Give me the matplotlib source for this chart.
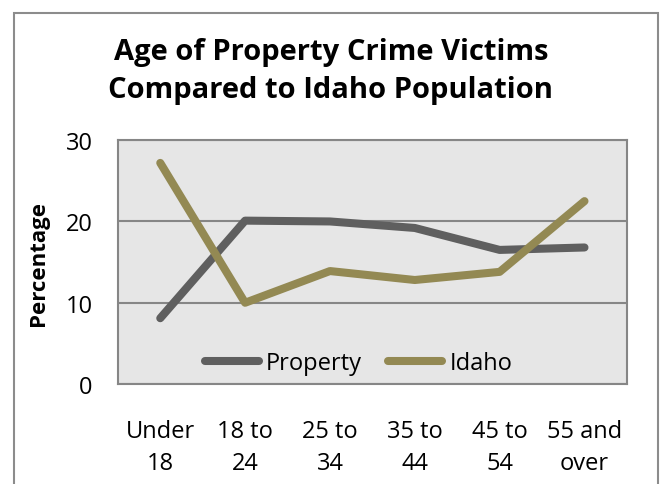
import matplotlib.pyplot as plt
from matplotlib.patches import Rectangle

categories = ["Under\n18", "18 to\n24", "25 to\n34", "35 to\n44", "45 to\n54", "55 and\nover"]
property_pct = [8.1, 20.1, 20.0, 19.2, 16.5, 16.8]
idaho_pct = [27.2, 10.0, 13.9, 12.8, 13.8, 22.5]

plt.rcParams['font.family'] = ['Open Sans', 'DejaVu Sans']

fig = plt.figure(figsize=(6.62, 4.85), dpi=100)
ax = fig.add_axes([0.178, 0.206, 0.769, 0.503])

# outer chart border (open at the bottom, like the cropped original)
fig.patches.append(Rectangle((14/662, -0.05), 644/662, 1.05 - 14/485,
                             transform=fig.transFigure, fill=False,
                             edgecolor='#8c8c8c', lw=1.5))

x = range(len(categories))
ax.plot(x, property_pct, color='#5f5f5f', lw=5.8, solid_capstyle='round',
        solid_joinstyle='round', label='Property')
ax.plot(x, idaho_pct, color='#938953', lw=5.8, solid_capstyle='round',
        solid_joinstyle='round', label='Idaho')

ax.set_facecolor('#e6e6e6')
ax.set_xlim(-0.5, 5.5)
ax.set_ylim(0, 30)
ax.set_yticks([0, 10, 20, 30])
ax.set_xticks(list(x))
ax.set_xticklabels(categories, fontsize=17, linespacing=1.45)
ax.tick_params(axis='y', labelsize=17, length=0, pad=18)
ax.tick_params(axis='x', length=0, pad=25)
ax.grid(axis='y', color='#868686', lw=1.5)
ax.set_axisbelow(True)
for s in ax.spines.values():
    s.set_color('#868686')
    s.set_linewidth(1.5)

ax.set_ylabel('Percentage', fontsize=16, fontweight='bold')
ax.yaxis.set_label_coords(-0.135, 0.5)

ax.legend(loc='lower center', ncol=2, frameon=False, fontsize=17,
          handlelength=2.3, columnspacing=1.1, handletextpad=0.3,
          bbox_to_anchor=(0.473, -0.05))

fig.text(0.5, 0.852, 'Age of Property Crime Victims\nCompared to Idaho Population',
         ha='center', va='center', fontsize=21, fontweight='bold', linespacing=1.4)

fig.savefig('out.png', dpi=100)
